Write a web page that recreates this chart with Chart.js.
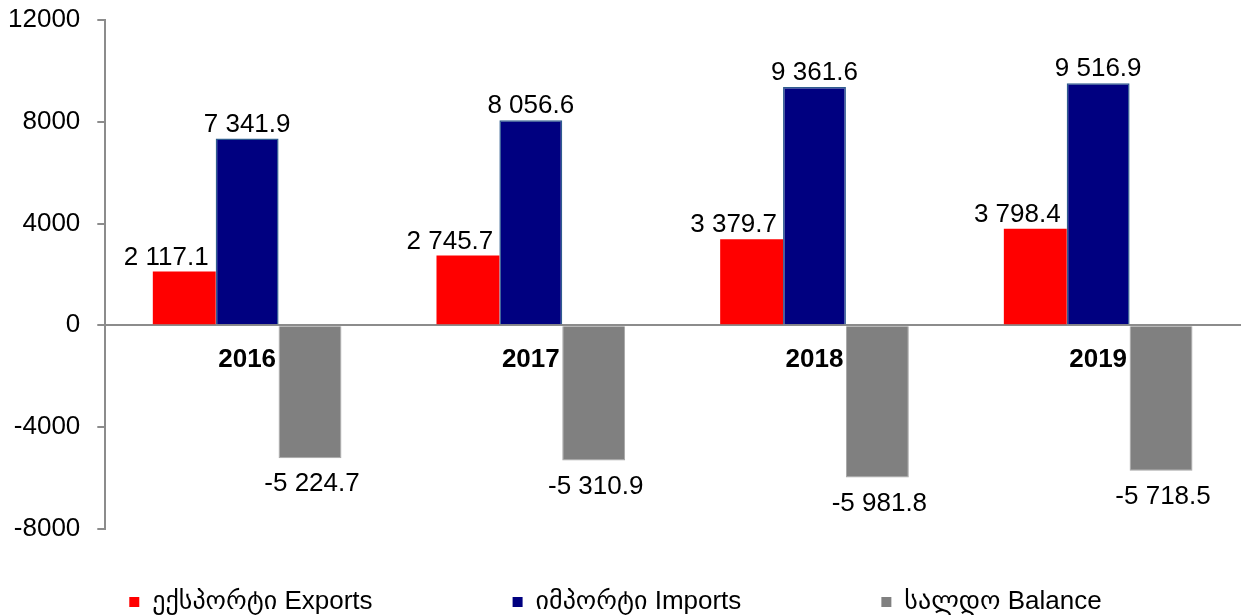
<!DOCTYPE html>
<html>
<head>
<meta charset="utf-8">
<script src="https://cdn.jsdelivr.net/npm/chart.js@4/dist/chart.umd.min.js"></script>
<style>
  html, body { margin: 0; padding: 0; background: #fff; }
  #wrap { width: 1249px; height: 616px; }
</style>
</head>
<body>
<div id="wrap"><canvas id="barChart"></canvas></div>
<script>
// dannye
const years = ['2016', '2017', '2018', '2019'];
const exportsVals = [2117.1, 2745.7, 3379.7, 3798.4];
const importsVals = [7341.9, 8056.6, 9361.6, 9516.9];
const balanceVals = [-5224.7, -5310.9, -5981.8, -5718.5];
const seriesNames = ['ექსპორტი Exports', 'იმპორტი Imports', 'სალდო Balance'];
const yTicks = [-8000, -4000, 0, 4000, 8000, 12000];

const FONT = '"Liberation Sans", Arial, "DejaVu Sans", sans-serif';

// 7341.9 -> "7 341.9"
function fmt(v) {
  const s = Math.abs(v).toFixed(1).split('.');
  const intPart = s[0].replace(/\B(?=(\d{3})+(?!\d))/g, ' ');
  return (v < 0 ? '-' : '') + intPart + '.' + s[1];
}

// podpisi nad stolbikami
const valueLabels = {
  id: 'valueLabels',
  afterDatasetsDraw(chart) {
    const ctx = chart.ctx;
    ctx.save();
    ctx.font = '26px ' + FONT;
    ctx.fillStyle = '#000';
    ctx.textAlign = 'center';
    chart.data.datasets.forEach((ds, i) => {
      const meta = chart.getDatasetMeta(i);
      meta.data.forEach((bar, j) => {
        const v = ds.data[j];
        let x = bar.x;
        if (i === 0) x -= 18;
        if (v >= 0) {
          ctx.textBaseline = 'bottom';
          ctx.fillText(fmt(v), x, bar.y - 1);
        } else {
          ctx.textBaseline = 'middle';
          ctx.fillText(fmt(v), x + 2, bar.y + 26);
        }
      });
    });
    ctx.restore();
  }
};

new Chart(document.querySelector('#barChart'), {
  type: 'bar',
  data: {
    labels: years,
    datasets: [
      { label: seriesNames[0], data: exportsVals, backgroundColor: '#FF0000', borderWidth: 0 },
      { label: seriesNames[1], data: importsVals, backgroundColor: '#000080', borderColor: '#2F5C8F', borderWidth: 1.5 },
      { label: seriesNames[2], data: balanceVals, backgroundColor: '#808080', borderColor: '#A6A6A6', borderWidth: 1 }
    ]
  },
  options: {
    responsive: true,
    maintainAspectRatio: false,
    animation: false,
    layout: { padding: { left: -9, right: 9, top: 20, bottom: -9 } },
    datasets: {
      bar: { categoryPercentage: 0.665, barPercentage: 1 }
    },
    plugins: {
      tooltip: { enabled: false },
      legend: {
        position: 'bottom',
        title: { display: true, text: '', font: { size: 1 }, padding: { top: 49, bottom: 0 } },
        labels: {
          boxWidth: 10,
          boxHeight: 10,
          padding: 10,
          color: '#000',
          font: { family: FONT, size: 26 },
          // probely posle teksta, chtoby razdvinut' elementy legendy
          generateLabels: chart => {
            const items = Chart.defaults.plugins.legend.labels.generateLabels(chart);
            items.forEach((it, i) => {
              it.lineWidth = 0;
              if (i < items.length - 1) it.text = it.text + ' '.repeat(18);
            });
            return items;
          }
        }
      }
    },
    scales: {
      x: {
        position: { y: 0 },
        grid: { display: false, drawTicks: false },
        border: { display: true, color: '#8C8C8C', width: 2 },
        ticks: {
          padding: 19,
          color: '#000',
          font: { family: FONT, size: 26, weight: 'bold' }
        },
        afterFit: axis => { axis.paddingTop = 0; axis.paddingBottom = 0; }
      },
      y: {
        min: -8000,
        max: 12000,
        afterBuildTicks: axis => { axis.ticks = yTicks.map(v => ({ value: v })); },
        afterFit: axis => { axis.paddingTop = 0; },
        grid: { drawOnChartArea: false, drawTicks: true, tickLength: 8, color: '#8C8C8C', lineWidth: 2 },
        border: { display: true, color: '#8C8C8C', width: 2 },
        ticks: {
          padding: 17,
          color: '#000',
          font: { family: FONT, size: 26 },
          callback: v => String(v)
        }
      }
    }
  },
  plugins: [valueLabels]
});
</script>
</body>
</html>
